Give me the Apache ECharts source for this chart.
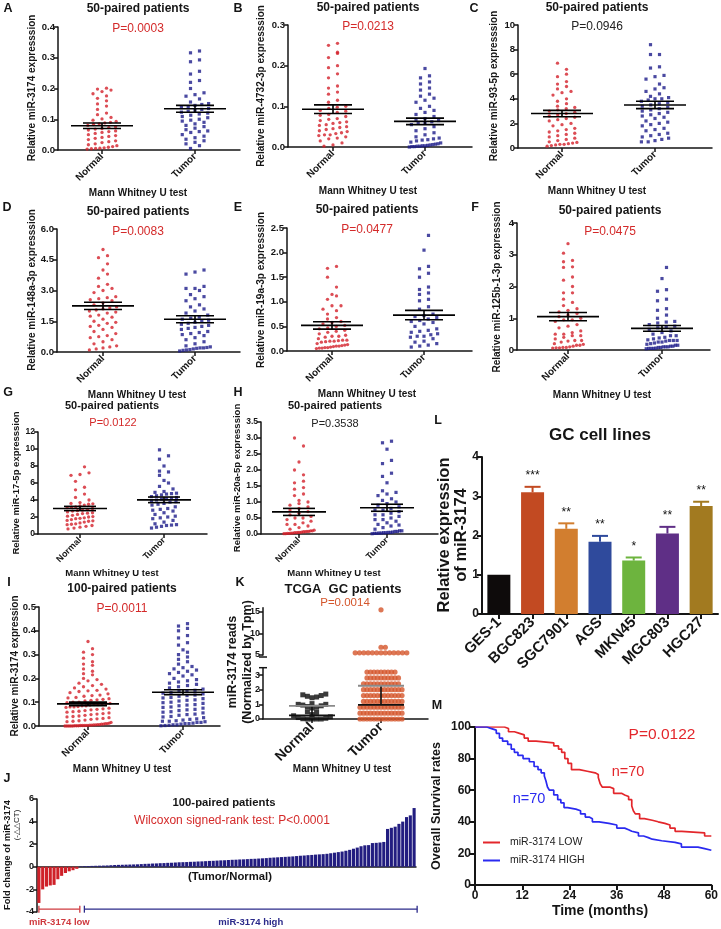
<!DOCTYPE html>
<html><head><meta charset="utf-8">
<script src="https://cdn.jsdelivr.net/npm/echarts@6/dist/echarts.min.js"></script>
<style>html,body{margin:0;padding:0;background:#fff}#c{width:721px;height:929px}</style>
</head><body><div id="c"></div>
<script>
// ================= DATA =================
const scatterGroups = ['Normal', 'Tumor'];

const aNormal = [0.201,0.198,0.195,0.19,0.183,0.176,0.168,0.16,0.15,0.143,0.132,0.12,0.115,0.106,0.101,0.097,0.093,0.09,0.088,0.085,0.083,0.08,0.076,0.073,0.07,0.068,0.065,0.062,0.06,0.057,0.054,0.05,0.047,0.044,0.041,0.038,0.034,0.03,0.027,0.024,0.02,0.017,0.014,0.011,0.009,0.007,0.006,0.005,0.004,0.003];
const aTumor = [0.322,0.316,0.293,0.287,0.256,0.247,0.226,0.22,0.2,0.186,0.18,0.175,0.166,0.156,0.151,0.148,0.145,0.141,0.138,0.135,0.132,0.129,0.126,0.123,0.12,0.117,0.113,0.109,0.105,0.1,0.097,0.094,0.09,0.085,0.08,0.076,0.071,0.066,0.062,0.06,0.057,0.05,0.045,0.04,0.035,0.03,0.025,0.02,0.014,0.005];
const aMean = [0.079, 0.134], aSem = [0.009, 0.011];

const bNormal = [0.255,0.25,0.233,0.23,0.22,0.2,0.195,0.18,0.17,0.15,0.145,0.135,0.13,0.115,0.11,0.1,0.098,0.095,0.09,0.088,0.085,0.08,0.078,0.075,0.07,0.068,0.065,0.062,0.06,0.058,0.055,0.053,0.05,0.048,0.045,0.043,0.04,0.038,0.035,0.033,0.03,0.03,0.028,0.025,0.022,0.02,0.015,0.01,0.005,0.002];
const bTumor = [0.193,0.175,0.17,0.16,0.155,0.145,0.14,0.13,0.125,0.12,0.115,0.11,0.1,0.095,0.09,0.085,0.08,0.075,0.07,0.068,0.065,0.062,0.06,0.058,0.055,0.05,0.045,0.04,0.035,0.03,0.025,0.022,0.02,0.018,0.017,0.015,0.012,0.01,0.008,0.007,0.006,0.005,0.004,0.003,0.003,0.002,0.002,0.001,0.001,0.0];
const bMean = [0.093, 0.063], bSem = [0.0105, 0.008];

const cNormal = [6.9,6.4,6.0,5.8,5.4,5.2,5.0,4.8,4.6,4.5,4.3,4.0,3.8,3.6,3.4,3.2,3.1,3.0,2.9,2.8,2.7,2.6,2.5,2.4,2.2,2.0,1.9,1.8,1.6,1.5,1.4,1.3,1.2,1.1,1.0,0.9,0.8,0.7,0.6,0.5,0.45,0.4,0.35,0.3,0.25,0.2,0.15,0.3,2.3,3.3];
const cTumor = [8.4,7.6,7.6,6.6,6.5,5.9,5.8,5.6,5.2,4.9,4.8,4.6,4.4,4.2,4.1,4.0,4.0,3.9,3.8,3.7,3.6,3.5,3.4,3.3,3.2,3.1,2.9,2.8,2.6,2.5,2.4,2.2,2.1,2.0,1.9,1.8,1.6,1.5,1.4,1.2,1.1,1.0,0.9,0.8,0.7,0.6,0.5,0.5,2.7,3.0];
const cMean = [2.8, 3.5], cSem = [0.26, 0.3];

const dNormal = [5.0,4.7,4.6,4.3,4.0,3.8,3.6,3.3,3.2,3.0,2.9,2.7,2.6,2.5,2.4,2.3,2.2,2.1,2.05,2.0,1.95,1.9,1.8,1.7,1.6,1.5,1.45,1.4,1.3,1.2,1.1,1.0,0.9,0.8,0.7,0.6,0.5,0.4,0.3,0.2,0.15,0.1,2.55,2.65,2.15,3.1,1.75,1.25,0.75,0.25];
const dTumor = [4.0,3.9,3.8,3.2,3.1,3.0,2.8,2.6,2.5,2.3,2.2,2.1,2.0,1.9,1.8,1.7,1.6,1.55,1.5,1.45,1.4,1.35,1.3,1.25,1.2,1.1,1.0,0.95,0.9,0.8,0.7,0.6,0.5,0.4,0.3,0.2,0.18,0.15,0.12,0.1,0.08,0.05,0.2,0.25,1.15,1.65,2.7,3.1,0.85,0.22];
const dMean = [2.25, 1.6], dSem = [0.18, 0.17];

const eNormal = [1.72,1.68,1.5,1.3,1.15,1.12,1.05,0.92,0.92,0.82,0.75,0.68,0.65,0.6,0.55,0.52,0.5,0.45,0.42,0.4,0.35,0.3,0.28,0.25,0.22,0.22,0.21,0.2,0.2,0.19,0.18,0.15,0.13,0.12,0.11,0.1,0.1,0.09,0.08,0.07,0.07,0.06,0.06,0.05,0.3,0.32,0.85,0.47,0.38,0.58];
const eTumor = [2.35,2.05,1.72,1.67,1.58,1.5,1.3,1.25,1.18,1.15,1.05,1.02,0.9,0.85,0.75,0.72,0.7,0.65,0.6,0.58,0.55,0.5,0.45,0.42,0.4,0.35,0.33,0.3,0.28,0.25,0.2,0.15,0.12,0.1,0.08,0.38,0.62,0.68,0.3,0.18];
const eMean = [0.52, 0.73], eSem = [0.075, 0.095];

const fNormal = [3.35,3.05,2.82,2.78,2.62,2.6,2.3,2.2,2.0,1.8,1.8,1.6,1.5,1.4,1.3,1.2,1.15,1.1,1.05,1.0,0.95,0.9,0.8,0.75,0.7,0.6,0.55,0.5,0.45,0.4,0.35,0.3,0.28,0.25,0.2,0.18,0.15,0.12,0.1,0.08,0.08,0.07,0.07,0.06,0.5,1.25,0.3,0.45,0.95,0.15];
const fTumor = [2.6,2.25,1.9,1.85,1.6,1.55,1.3,1.25,1.1,1.0,0.9,0.85,0.8,0.75,0.7,0.65,0.6,0.55,0.5,0.45,0.4,0.38,0.35,0.32,0.3,0.28,0.25,0.22,0.2,0.18,0.15,0.12,0.1,0.1,0.08,0.08,0.06,0.05,0.05,0.04,0.3,0.3,0.12,0.15,0.45,0.88,0.72,0.1,0.25,0.05];
const fMean = [1.05, 0.68], fSem = [0.13, 0.09];

const gNormal = [7.9,7.2,7.0,6.9,6.2,5.5,5.2,4.7,4.3,4.0,3.7,3.6,3.5,3.4,3.3,3.2,3.1,3.0,2.9,2.8,2.7,2.6,2.5,2.4,2.3,2.2,2.1,2.0,1.9,1.8,1.7,1.6,1.5,1.4,1.3,1.2,1.1,1.0,0.9,0.8,0.7,0.6,3.55,2.75,2.05,1.55,3.15,2.45,1.85,1.15];
const gTumor = [9.9,9.2,8.8,8.0,7.4,7.3,6.9,6.3,6.0,5.6,5.3,5.0,4.9,4.8,4.7,4.6,4.5,4.4,4.3,4.2,4.1,4.0,3.9,3.8,3.6,3.5,3.4,3.2,3.0,2.9,2.7,2.5,2.3,2.1,2.0,1.9,1.8,1.6,1.4,1.2,1.1,1.0,0.9,0.8,0.7,4.75,4.15,3.75,2.8,1.05];
const gMean = [3.0, 4.02], gSem = [0.25, 0.33];

const hNormal = [3.0,2.75,2.25,2.0,1.85,1.65,1.6,1.45,1.4,1.25,1.2,1.05,1.0,0.95,0.9,0.85,0.8,0.75,0.7,0.65,0.6,0.55,0.5,0.45,0.4,0.35,0.3,0.25,0.2,0.15,0.12,0.1,0.1,0.08,0.08,0.07,0.07,0.06,0.05,0.05,0.04,0.04,0.03,0.03,0.02,0.02,0.01,0.01,0.5,0.3];
const hTumor = [2.9,2.85,2.65,2.3,2.2,1.9,1.8,1.6,1.35,1.3,1.25,1.2,1.1,1.05,1.0,0.95,0.9,0.85,0.8,0.75,0.7,0.65,0.6,0.55,0.5,0.45,0.4,0.35,0.3,0.25,0.2,0.15,0.1,0.1,0.08,0.08,0.06,0.05,0.05,0.04,0.04,0.03,0.03,0.02,0.02,0.01,0.45,0.75,0.6,0.28];
const hMean = [0.69, 0.82], hSem = [0.11, 0.11];

const iNormal = [0.355,0.325,0.31,0.3,0.285,0.27,0.26,0.255,0.24,0.23,0.22,0.215,0.2,0.195,0.19,0.18,0.175,0.17,0.165,0.16,0.155,0.15,0.148,0.145,0.14,0.135,0.13,0.128,0.125,0.12,0.118,0.115,0.112,0.11,0.108,0.105,0.1,0.1,0.098,0.095,0.095,0.092,0.09,0.09,0.088,0.085,0.085,0.082,0.08,0.08,0.078,0.075,0.072,0.07,0.068,0.065,0.062,0.06,0.058,0.055,0.052,0.05,0.048,0.045,0.042,0.04,0.038,0.035,0.032,0.03,0.028,0.025,0.022,0.02,0.018,0.015,0.012,0.01,0.01,0.008,0.008,0.006,0.006,0.005,0.005,0.004,0.004,0.003,0.003,0.002,0.002,0.002,0.001,0.001,0.001,0.0,0.0,0.0,0.0,0.0];
const iTumor = [0.43,0.42,0.41,0.4,0.38,0.37,0.35,0.34,0.32,0.31,0.3,0.29,0.28,0.27,0.26,0.25,0.245,0.24,0.235,0.23,0.225,0.22,0.215,0.21,0.2,0.195,0.19,0.185,0.18,0.175,0.17,0.165,0.16,0.155,0.15,0.148,0.145,0.14,0.138,0.135,0.13,0.128,0.125,0.12,0.118,0.115,0.11,0.108,0.105,0.1,0.098,0.095,0.09,0.088,0.085,0.08,0.078,0.075,0.07,0.068,0.065,0.06,0.058,0.055,0.05,0.048,0.045,0.04,0.038,0.035,0.03,0.028,0.025,0.022,0.02,0.02,0.018,0.015,0.015,0.012,0.01,0.01,0.008,0.005,0.005,0.003,0.002,0.001];
const iMean = [0.093, 0.142], iSem = [0.0075, 0.01];

// K: TCGA reads
const kNormal = [1.7,1.65,1.6,1.55,1.5,1.45,1.05,1.0,1.0,0.95,0.9,0.85,0.8,0.75,0.5,0.45,0.3,0.22,0.15,0.1,0.05,0.02,0.0,0.0,0.0,0.0];
const kTumorLevels = [0,0.4,0.8,1.2,1.6,2.0,2.4,2.8,3.2,5.5,6.8,15.5];
const kTumorCounts = [13,13,13,12,12,12,11,10,9,13,2,1];
const kStats = {Normal: [0.25, 0.9], Tumor: [0.96, 2.27]}; // [center line, upper line]

// J: fold change, 100 paired
const jLow = [-3.2,-2.0,-1.75,-1.65,-1.6,-1.1,-0.8,-0.55,-0.4,-0.3,-0.18];
const jHigh = [0.04,0.06,0.07,0.08,0.09,0.1,0.11,0.12,0.14,0.16,
 0.17,0.18,0.19,0.2,0.21,0.22,0.24,0.26,0.27,0.29,
 0.3,0.32,0.33,0.35,0.36,0.38,0.4,0.41,0.42,0.44,
 0.45,0.47,0.48,0.5,0.52,0.53,0.55,0.57,0.58,0.6,
 0.62,0.63,0.65,0.66,0.68,0.7,0.71,0.73,0.75,0.77,
 0.8,0.82,0.84,0.86,0.88,0.9,0.92,0.95,0.98,1.0,
 1.03,1.05,1.08,1.1,1.12,1.15,1.2,1.25,1.3,1.35,
 1.42,1.5,1.6,1.7,1.82,1.9,1.92,2.1,2.12,2.15,
 2.2,3.35,3.45,3.55,3.8,4.0,4.4,4.55,5.2];

// L: GC cell lines
const lCells = ['GES-1','BGC823','SGC7901','AGS','MKN45','MGC803','HGC27'];
const lMeans = [1.0, 3.1, 2.17, 1.84, 1.36, 2.05, 2.75];
const lErr = [0, 0.14, 0.14, 0.15, 0.08, 0.17, 0.11];
const lStars = ['', '***', '**', '**', '*', '**', '**'];

// M: Kaplan-Meier (months, survival %)
const mLow = [[0,100],[7.5,99],[8.5,97],[10,96],[11.3,95],[12.5,93],[13.5,91],[15.5,90],[20,88],[21.2,86],[22,84],[22.8,80],[23.6,77],[24.5,73],[26.5,72],[28.5,71],[30.5,70],[31.3,68],[31.8,64],[32.3,62],[34.2,61],[35.2,58],[37.2,57],[38,56],[39,54],[39.8,50],[40.2,47],[40.7,45],[41.8,42],[43,41],[45,40],[46.5,39],[48.2,38],[49.5,36],[50.8,34],[52.5,33],[58.3,31],[60,31]];
const mHigh = [[0,100],[3,99],[4.2,98],[5.4,96],[6.2,93],[7,91],[8.3,89],[9.2,86],[10,84],[10.9,82],[12.2,80],[13.8,78],[15,75],[16,73],[16.8,71],[17.6,69],[18,66],[18.4,62],[18.9,60],[20,57],[21,54],[21.8,52],[22.6,49],[23.5,48],[25.6,47],[26.8,45],[28,43],[29,42],[29.8,40],[31.5,39],[34,38],[36,36],[38,35],[39,34],[39.8,33],[41.5,31],[42.8,30],[44,29],[45,28],[47.4,27],[50.8,26],[52.4,24],[56.6,23],[58.3,22],[60,22]];
const mNames = ['miR-3174 LOW', 'miR-3174 HIGH'];

// ================= STYLE / LAYOUT =================
const FONT = '"Liberation Sans", Arial, sans-serif';
const RED = '#d3202a', NAVY = '#1d1b8a', PRED = '#d42a2a', INK = '#151515';

const option = {animation: false, backgroundColor: '#fff', grid: [], xAxis: [], yAxis: [], series: [], graphic: []};
function addGrid(gr, xa, ya) {
  const i = option.grid.length;
  option.grid.push(Object.assign({containLabel: false}, gr));
  xa.gridIndex = i; ya.gridIndex = i;
  option.xAxis.push(xa); option.yAxis.push(ya);
  return i;
}
const axLine = (w) => ({show: true, onZero: false, lineStyle: {color: INK, width: w || 1.5}});
const axTick = (len, w) => ({show: true, inside: false, length: len, lineStyle: {color: INK, width: w || 1.5}});
const lab = (fs, extra) => Object.assign({color: INK, fontSize: fs, fontWeight: 'bold', fontFamily: FONT}, extra || {});

function txt(x, y, text, size, o) {
  o = o || {};
  return {type: 'text', x: x, y: y, rotation: o.rot || 0, silent: true, z: 100,
    style: {text: text, fill: o.color || INK, font: (o.bold === false ? 'normal ' : 'bold ') + size + 'px ' + FONT,
      align: 'center', verticalAlign: 'middle', textAlign: 'center', textVerticalAlign: 'middle'}};
}

// GraphPad-like row layout: values within binPx form a row; row spread evenly, spacing capped
function rowSwarm(values, center, pxX, pxY, binPx, W, sMax) {
  const sorted = values.slice().sort((a, b) => a - b);
  const rows = []; let cur = null;
  sorted.forEach(v => {
    if (!cur || (v - cur.start) * pxY > binPx) { cur = {start: v, vals: []}; rows.push(cur); }
    cur.vals.push(v);
  });
  const out = [];
  rows.forEach((r, ri) => {
    const n = r.vals.length;
    const s = Math.min(sMax, W / n);
    const shift = (n === 1) ? ((ri % 3) - 1) * sMax * 0.5 : 0;
    r.vals.forEach((v, i) => out.push([center + ((i - (n - 1) / 2) * s + shift) / pxX, v]));
  });
  return out;
}
// collision beeswarm (used for discrete-level TCGA data)
function swarm(values, center, pxX, pxY, dPx, stepPx) {
  const sorted = values.slice().sort((a, b) => a - b);
  const placed = [], out = [];
  sorted.forEach(v => {
    const y = v * pxY;
    const near = placed.filter(p => Math.abs(p.y - y) < dPx);
    let x = 0;
    for (let i = 0; i < 400; i++) {
      const off = i === 0 ? 0 : Math.ceil(i / 2) * stepPx * (i % 2 ? 1 : -1);
      if (!near.some(p => Math.abs(p.x - off) < stepPx * 0.99)) { x = off; break; }
    }
    placed.push({x: x, y: y});
    out.push([center + x / pxX, v]);
  });
  return out;
}

function meanSemRender(mw, cw, lw) {
  return function (params, api) {
    const x = api.value(0), m = api.value(1), s = api.value(2);
    const pm = api.coord([x, m]), pt = api.coord([x, m + s]), pb = api.coord([x, m - s]);
    const st = {stroke: '#000', lineWidth: lw};
    return {type: 'group', children: [
      {type: 'line', shape: {x1: pm[0] - mw / 2, y1: pm[1], x2: pm[0] + mw / 2, y2: pm[1]}, style: st},
      {type: 'line', shape: {x1: pt[0], y1: pt[1], x2: pb[0], y2: pb[1]}, style: st},
      {type: 'line', shape: {x1: pt[0] - cw / 2, y1: pt[1], x2: pt[0] + cw / 2, y2: pt[1]}, style: st},
      {type: 'line', shape: {x1: pb[0] - cw / 2, y1: pb[1], x2: pb[0] + cw / 2, y2: pb[1]}, style: st}
    ]};
  };
}

// ------------- scatter panels A..I -------------
const scatterPanels = [
  {normal: aNormal, tumor: aTumor, mean: aMean, sem: aSem, L: 58, R: 240, top: 27, bottom: 150, n: 102, t: 195, max: 0.4, interval: 0.1, dec: 1, W: 34},
  {normal: bNormal, tumor: bTumor, mean: bMean, sem: bSem, L: 288, R: 472, top: 25, bottom: 147, n: 333, t: 425, max: 0.3, interval: 0.1, dec: 1, W: 34},
  {normal: cNormal, tumor: cTumor, mean: cMean, sem: cSem, L: 518, R: 712, top: 25, bottom: 148, n: 562, t: 655, max: 10, interval: 2, dec: 0, W: 34},
  {normal: dNormal, tumor: dTumor, mean: dMean, sem: dSem, L: 57, R: 240, top: 229, bottom: 352, n: 103, t: 195, max: 6, interval: 1.5, dec: 1, W: 34},
  {normal: eNormal, tumor: eTumor, mean: eMean, sem: eSem, L: 287, R: 472, top: 228, bottom: 351, n: 332, t: 424, max: 2.5, interval: 0.5, dec: 1, W: 34},
  {normal: fNormal, tumor: fTumor, mean: fMean, sem: fSem, L: 517, R: 710, top: 223, bottom: 350, n: 568, t: 662, max: 4, interval: 1, dec: 0, W: 34},
  {normal: gNormal, tumor: gTumor, mean: gMean, sem: gSem, L: 38, R: 207, top: 432, bottom: 534, n: 80, t: 164, max: 12, interval: 2, dec: 0, small: true, W: 30},
  {normal: hNormal, tumor: hTumor, mean: hMean, sem: hSem, L: 261, R: 438, top: 422, bottom: 534, n: 299, t: 387, max: 3.5, interval: 0.5, dec: 1, small: true, W: 32},
  {normal: iNormal, tumor: iTumor, mean: iMean, sem: iSem, L: 39, R: 220, top: 607, bottom: 726, n: 88, t: 183, max: 0.5, interval: 0.1, dec: 1, W: 48}
];

scatterPanels.forEach(p => {
  const ppu = p.t - p.n;
  const xMin = 0.5 - (p.n - p.L) / ppu, xMax = 1.5 + (p.R - p.t) / ppu;
  const tfs = p.small ? 8.5 : 9.5, xfs = p.small ? 9 : 10;
  const gi = addGrid({left: p.L, top: p.top, width: p.R - p.L, height: p.bottom - p.top},
    {type: 'value', min: xMin, max: xMax, axisLine: axLine(), splitLine: {show: false},
      axisTick: Object.assign(axTick(4), {customValues: [0.5, 1.5]}),
      axisLabel: lab(xfs, {customValues: [0.5, 1.5], rotate: 45, margin: 5, formatter: v => (v < 1 ? scatterGroups[0] : scatterGroups[1])})},
    {type: 'value', min: 0, max: p.max, interval: p.interval, axisLine: axLine(), splitLine: {show: false},
      axisTick: axTick(4), axisLabel: lab(tfs, {margin: 3, formatter: v => v.toFixed(p.dec)})});
  const pxX = ppu, pxY = (p.bottom - p.top) / p.max;
  option.series.push({type: 'scatter', xAxisIndex: gi, yAxisIndex: gi, symbol: 'circle', symbolSize: 3.3, silent: true,
    itemStyle: {color: RED}, data: rowSwarm(p.normal, 0.5, pxX, pxY, 4.2, p.W, 9)});
  option.series.push({type: 'scatter', xAxisIndex: gi, yAxisIndex: gi, symbol: 'rect', symbolSize: 3.2, silent: true,
    itemStyle: {color: NAVY}, data: rowSwarm(p.tumor, 1.5, pxX, pxY, 4.2, p.W, 9)});
  option.series.push({type: 'custom', xAxisIndex: gi, yAxisIndex: gi, silent: true, z: 5,
    renderItem: meanSemRender(p.small ? 54 : 62, p.small ? 32 : 38, 1.6),
    data: [[0.5, p.mean[0], p.sem[0]], [1.5, p.mean[1], p.sem[1]]]});
});

// ------------- K: TCGA broken axis -------------
(function () {
  const L = 263, R = 428, n = 312, t = 381, ppu = t - n;
  const xMin = 0.5 - (n - L) / ppu, xMax = 1.5 + (R - t) / ppu;
  const upTop = 607.7, upBot = 655, loTop = 667.7, loBot = 719;
  const xBase = {type: 'value', min: xMin, max: xMax, splitLine: {show: false}};
  const gU = addGrid({left: L, top: upTop, width: R - L, height: upBot - upTop},
    Object.assign({}, xBase, {show: false}),
    {type: 'value', min: 5, max: 16, interval: 5, axisLine: axLine(), splitLine: {show: false}, axisTick: axTick(4), axisLabel: lab(9, {margin: 3})});
  const gL = addGrid({left: L, top: loTop, width: R - L, height: loBot - loTop},
    Object.assign({}, xBase, {axisLine: axLine(), axisTick: Object.assign(axTick(4), {customValues: [0.5, 1.5]}),
      axisLabel: lab(14, {customValues: [0.5, 1.5], rotate: 45, margin: 6, formatter: v => (v < 1 ? scatterGroups[0] : scatterGroups[1])})}),
    {type: 'value', min: 0, max: 3.5, interval: 1, axisLine: axLine(), splitLine: {show: false}, axisTick: axTick(4), axisLabel: lab(9, {margin: 3})});
  const pyU = (upBot - upTop) / 11, pyL = (loBot - loTop) / 3.5;
  const tumorVals = [];
  kTumorLevels.forEach((v, i) => { for (let k = 0; k < kTumorCounts[i]; k++) tumorVals.push(v); });
  const lowT = tumorVals.filter(v => v < 5), upT = tumorVals.filter(v => v >= 5);
  const ORANGE = '#d4552b';
  option.series.push({type: 'scatter', xAxisIndex: gL, yAxisIndex: gL, symbol: 'circle', symbolSize: 5.2, silent: true,
    itemStyle: {color: ORANGE}, data: swarm(lowT, 1.5, ppu, pyL, 3, 3.5)});
  option.series.push({type: 'scatter', xAxisIndex: gU, yAxisIndex: gU, symbol: 'circle', symbolSize: 5.2, silent: true,
    itemStyle: {color: ORANGE}, data: swarm(upT, 1.5, ppu, pyU, 3, 4.3)});
  option.series.push({type: 'scatter', xAxisIndex: gL, yAxisIndex: gL, symbol: 'rect', symbolSize: 5, silent: true,
    itemStyle: {color: '#0a0a0a'}, data: swarm(kNormal, 0.5, ppu, pyL, 4, 4.6)});
  const statRender = function (params, api) {
    const x = api.value(0), m = api.value(1), u = api.value(2);
    const pm = api.coord([x, m]), pu = api.coord([x, u]);
    const w = 46;
    return {type: 'group', children: [
      {type: 'line', shape: {x1: pm[0], y1: pm[1], x2: pu[0], y2: pu[1]}, style: {stroke: '#111', lineWidth: 1.6}},
      {type: 'line', shape: {x1: pm[0] - w / 2, y1: pm[1], x2: pm[0] + w / 2, y2: pm[1]}, style: {stroke: '#111', lineWidth: 1.8}},
      {type: 'line', shape: {x1: pu[0] - w / 2, y1: pu[1], x2: pu[0] + w / 2, y2: pu[1]}, style: {stroke: '#8a8a8a', lineWidth: 1.8}}
    ]};
  };
  option.series.push({type: 'custom', xAxisIndex: gL, yAxisIndex: gL, silent: true, z: 5, renderItem: statRender,
    data: [[0.5, kStats.Normal[0], kStats.Normal[1]], [1.5, kStats.Tumor[0], kStats.Tumor[1]]]});
  option.graphic.push({type: 'line', silent: true, shape: {x1: L - 4, y1: upBot + 2, x2: L + 4, y2: upBot + 2}, style: {stroke: INK, lineWidth: 1.5}});
  option.graphic.push({type: 'line', silent: true, shape: {x1: L - 4, y1: loTop, x2: L + 4, y2: loTop}, style: {stroke: INK, lineWidth: 1.5}});
})();

// ------------- L: GC cell lines -------------
const lColors = ['#0e0b0b', '#c24a22', '#d27e2f', '#2f4a9c', '#6db43e', '#5f2f86', '#a27a20'];
(function () {
  const gi = addGrid({left: 482, top: 457, width: 236, height: 157},
    {type: 'category', data: lCells, axisLine: axLine(2), axisTick: Object.assign(axTick(5, 2), {alignWithLabel: true}),
      axisLabel: lab(15, {rotate: 45, margin: 6, interval: 0})},
    {type: 'value', min: 0, max: 4, interval: 1, axisLine: axLine(2), splitLine: {show: false}, axisTick: axTick(5, 2), axisLabel: lab(12, {margin: 3})});
  option.series.push({type: 'bar', xAxisIndex: gi, yAxisIndex: gi, barWidth: 23, silent: true,
    data: lMeans.map((v, i) => ({value: v, itemStyle: {color: lColors[i]}}))});
  option.series.push({type: 'custom', xAxisIndex: gi, yAxisIndex: gi, silent: true, z: 5,
    data: lMeans.map((v, i) => [i, v, lErr[i]]),
    renderItem: function (params, api) {
      const i = api.value(0), m = api.value(1), e = api.value(2);
      const pb = api.coord([i, m]), pt = api.coord([i, m + e]);
      const c = lColors[params.dataIndex];
      const ch = [];
      if (e > 0) {
        ch.push({type: 'line', shape: {x1: pb[0], y1: pb[1], x2: pt[0], y2: pt[1]}, style: {stroke: c, lineWidth: 2}});
        ch.push({type: 'line', shape: {x1: pt[0] - 8, y1: pt[1], x2: pt[0] + 8, y2: pt[1]}, style: {stroke: c, lineWidth: 2}});
      }
      if (lStars[params.dataIndex]) ch.push({type: 'text', x: pt[0], y: pt[1] - 5,
        style: {text: lStars[params.dataIndex], fill: '#111', font: 'normal 12px ' + FONT, align: 'center', verticalAlign: 'bottom', textAlign: 'center', textVerticalAlign: 'bottom'}});
      return {type: 'group', children: ch};
    }});
})();

// ------------- J: waterfall -------------
(function () {
  const vals = jLow.concat(jHigh);
  const cats = vals.map((v, i) => String(i + 1));
  const gi = addGrid({left: 37, top: 799, width: 379, height: 113},
    {type: 'category', data: cats, axisLine: {show: true, onZero: true, lineStyle: {color: INK, width: 1.5}}, axisTick: {show: false}, axisLabel: {show: false}},
    {type: 'value', min: -4, max: 6, interval: 2, axisLine: axLine(), splitLine: {show: false}, axisTick: axTick(4), axisLabel: lab(9, {margin: 3})});
  option.series.push({type: 'bar', xAxisIndex: gi, yAxisIndex: gi, barCategoryGap: '18%', silent: true, data: vals,
    itemStyle: {color: p => (p.dataIndex < jLow.length ? '#cf2129' : '#221d80')}});
  const groupsJ = [[0, jLow.length - 1, '#cf3a3f', 'miR-3174 low'], [jLow.length, vals.length - 1, '#2b2a8a', 'miR-3174 high']];
  option.series.push({type: 'custom', xAxisIndex: gi, yAxisIndex: gi, silent: true,
    data: groupsJ.map(g => [g[0], g[1]]),
    renderItem: function (params, api) {
      const g = groupsJ[params.dataIndex];
      const band = api.size([1, 0])[0];
      const a = api.coord([api.value(0), -3.75]), b = api.coord([api.value(1), -3.75]);
      const x1 = a[0] + (params.dataIndex > 0 ? band : 0), x2 = b[0] + band * 0.8, y = a[1];
      const st = {stroke: g[2], lineWidth: 1.3};
      return {type: 'group', children: [
        {type: 'line', shape: {x1: x1, y1: y, x2: x2, y2: y}, style: st},
        {type: 'line', shape: {x1: x1, y1: y - 3.5, x2: x1, y2: y + 3.5}, style: st},
        {type: 'line', shape: {x1: x2, y1: y - 3.5, x2: x2, y2: y + 3.5}, style: st},
        {type: 'text', x: (x1 + x2) / 2, y: y + 13, style: {text: g[3], fill: g[2], font: 'bold 9.5px ' + FONT, align: 'center', verticalAlign: 'middle', textAlign: 'center', textVerticalAlign: 'middle'}}
      ]};
    }});
})();

// ------------- M: Kaplan-Meier -------------
(function () {
  const gi = addGrid({left: 475, top: 727, width: 238, height: 158},
    {type: 'value', min: 0, max: 60, interval: 12, axisLine: axLine(2), splitLine: {show: false}, axisTick: axTick(5, 2), axisLabel: lab(12, {margin: 5})},
    {type: 'value', min: 0, max: 100, interval: 20, axisLine: axLine(2), splitLine: {show: false}, axisTick: axTick(5, 2), axisLabel: lab(12, {margin: 4})});
  option.series.push({type: 'line', name: mNames[0], xAxisIndex: gi, yAxisIndex: gi, step: 'end', symbol: 'none', silent: true,
    lineStyle: {color: '#e3262b', width: 1.7}, itemStyle: {color: '#e3262b'}, data: mLow});
  option.series.push({type: 'line', name: mNames[1], xAxisIndex: gi, yAxisIndex: gi, step: 'end', symbol: 'none', silent: true,
    lineStyle: {color: '#2a2af0', width: 1.7}, itemStyle: {color: '#2a2af0'}, data: mHigh});
  option.legend = {data: mNames, orient: 'vertical', left: 483, top: 837, padding: 0, icon: 'rect', itemWidth: 17, itemHeight: 2, itemGap: 7,
    selectedMode: false, textStyle: {fontSize: 10.5, fontFamily: FONT, color: '#222', padding: [0, 0, 0, 5]}};
})();

// ------------- texts -------------
const G = option.graphic;
[['A', 8, 9], ['B', 238, 9], ['C', 474, 9], ['D', 7, 208], ['E', 238, 208], ['F', 475, 208], ['G', 8, 393], ['H', 238, 393],
 ['L', 438, 421], ['I', 9, 583], ['K', 240, 583], ['J', 7, 779], ['M', 437, 706]].forEach(a => G.push(txt(a[1], a[2], a[0], 12.5)));
[[138, 9], [368, 8], [597, 8], [138, 212], [367, 210], [610, 211]].forEach(a => G.push(txt(a[0], a[1], '50-paired patients', 12)));
G.push(txt(112, 406, '50-paired patients', 11));
G.push(txt(335, 406, '50-paired patients', 11));
G.push(txt(122, 589, '100-paired patients', 12));
G.push(txt(343, 589, 'TCGA  GC patients', 13));
G.push(txt(224, 803, '100-paired patients', 11.3));
G.push(txt(600, 435, 'GC cell lines', 17));
[[138, 29, 'P=0.0003', PRED], [368, 27, 'P=0.0213', PRED], [597, 27, 'P=0.0946', '#222'],
 [138, 232, 'P=0.0083', PRED], [367, 230, 'P=0.0477', PRED], [610, 232, 'P=0.0475', PRED],
 [122, 609, 'P=0.0011', PRED]].forEach(a => G.push(txt(a[0], a[1], a[2], 12, {bold: false, color: a[3]})));
G.push(txt(113, 423, 'P=0.0122', 11, {bold: false, color: PRED}));
G.push(txt(335, 424, 'P=0.3538', 11, {bold: false, color: '#222'}));
G.push(txt(345, 603, 'P=0.0014', 11.5, {bold: false, color: '#d4552b'}));
G.push(txt(232, 821, 'Wilcoxon signed-rank test: P<0.0001', 12, {bold: false, color: PRED}));
G.push(txt(662, 735, 'P=0.0122', 15.5, {bold: false, color: '#e3262b'}));
G.push(txt(628, 772, 'n=70', 14.5, {bold: false, color: '#e3262b'}));
G.push(txt(529, 799, 'n=70', 14.5, {bold: false, color: '#2a2af0'}));
[[138, 193], [368, 191], [597, 191], [137, 395], [367, 394], [602, 395], [122, 769], [342, 769]].forEach(a => G.push(txt(a[0], a[1], 'Mann Whitney U test', 10)));
G.push(txt(112, 573, 'Mann Whitney U test', 9.5));
G.push(txt(334, 573, 'Mann Whitney U test', 9.5));
G.push(txt(230, 877, '(Tumor/Normal)', 11.3));
G.push(txt(600, 911, 'Time (months)', 14));
const R90 = {rot: Math.PI / 2};
[[32, 88, 'Relative miR-3174 expresssion'], [261, 86, 'Relative miR-4732-3p expresssion'], [494, 86, 'Relative miR-93-5p expresssion'],
 [32, 290, 'Relative miR-148a-3p expresssion'], [261, 290, 'Relative miR-19a-3p expresssion'], [497, 287, 'Relative miR-125b-1-3p expresssion'],
 [15, 666, 'Relative miR-3174 expression']].forEach(a => G.push(txt(a[0], a[1], a[2], 10, R90)));
G.push(txt(16, 483, 'Relative miR-17-5p expresssion', 9.5, R90));
G.push(txt(237, 478, 'Relative miR-20a-5p expresssion', 9.5, R90));
G.push(txt(233, 662, 'miR-3174 reads', 12.5, R90));
G.push(txt(248, 662, '(Normalized by Tpm)', 12.5, R90));
G.push(txt(444, 535, 'Relative expression', 16.5, R90));
G.push(txt(461, 535, 'of miR-3174', 16.5, R90));
G.push(txt(7, 855, 'Fold change of miR-3174', 9.3, R90));
G.push(txt(17, 825, '(-△△CT)', 8, {rot: Math.PI / 2, bold: false}));
G.push(txt(437, 806, 'Overall Survival rates', 12.5, R90));

const chart = echarts.init(document.getElementById('c'), null, {renderer: 'canvas'});
chart.setOption(option);
</script></body></html>
